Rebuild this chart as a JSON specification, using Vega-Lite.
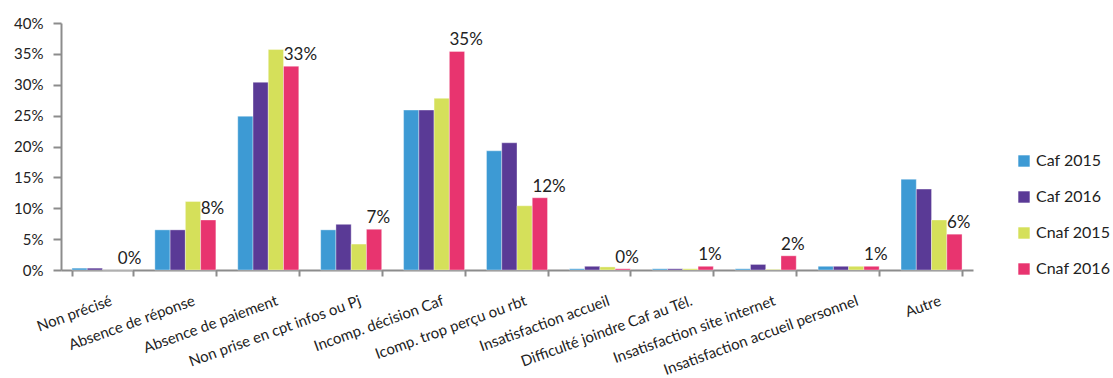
{
  "$schema": "https://vega.github.io/schema/vega-lite/v6.json",
  "width": 912,
  "height": 247,
  "autosize": {"type": "none"},
  "padding": {"left": 61, "top": 23, "right": 140, "bottom": 108},
  "background": "white",
  "config": {
    "font": "Lato",
    "view": {"stroke": null},
    "axis": {
      "domainColor": "#8c8c8c",
      "domainWidth": 2,
      "tickColor": "#8c8c8c",
      "tickWidth": 2,
      "labelColor": "#222222",
      "labelFont": "Lato",
      "labelFontSize": 15,
      "labelLimit": 0,
      "grid": false,
      "title": null
    },
    "legend": {
      "labelFont": "Lato",
      "labelFontSize": 16,
      "labelColor": "#222222",
      "labelLimit": 0
    }
  },
  "data": {
    "values": [
      {"motif": "Non précisé", "serie": "Caf 2015", "part": 0.003},
      {"motif": "Non précisé", "serie": "Caf 2016", "part": 0.003},
      {"motif": "Non précisé", "serie": "Cnaf 2015", "part": 0},
      {"motif": "Non précisé", "serie": "Cnaf 2016", "part": 0},
      {"motif": "Absence de réponse", "serie": "Caf 2015", "part": 0.065},
      {"motif": "Absence de réponse", "serie": "Caf 2016", "part": 0.065},
      {"motif": "Absence de réponse", "serie": "Cnaf 2015", "part": 0.111},
      {"motif": "Absence de réponse", "serie": "Cnaf 2016", "part": 0.081},
      {"motif": "Absence de paiement", "serie": "Caf 2015", "part": 0.249},
      {"motif": "Absence de paiement", "serie": "Caf 2016", "part": 0.304},
      {"motif": "Absence de paiement", "serie": "Cnaf 2015", "part": 0.357},
      {"motif": "Absence de paiement", "serie": "Cnaf 2016", "part": 0.330},
      {"motif": "Non prise en cpt infos ou Pj", "serie": "Caf 2015", "part": 0.065},
      {"motif": "Non prise en cpt infos ou Pj", "serie": "Caf 2016", "part": 0.074},
      {"motif": "Non prise en cpt infos ou Pj", "serie": "Cnaf 2015", "part": 0.042},
      {"motif": "Non prise en cpt infos ou Pj", "serie": "Cnaf 2016", "part": 0.066},
      {"motif": "Incomp. décision Caf", "serie": "Caf 2015", "part": 0.259},
      {"motif": "Incomp. décision Caf", "serie": "Caf 2016", "part": 0.259},
      {"motif": "Incomp. décision Caf", "serie": "Cnaf 2015", "part": 0.278},
      {"motif": "Incomp. décision Caf", "serie": "Cnaf 2016", "part": 0.354},
      {"motif": "Icomp. trop perçu ou rbt", "serie": "Caf 2015", "part": 0.193},
      {"motif": "Icomp. trop perçu ou rbt", "serie": "Caf 2016", "part": 0.206},
      {"motif": "Icomp. trop perçu ou rbt", "serie": "Cnaf 2015", "part": 0.104},
      {"motif": "Icomp. trop perçu ou rbt", "serie": "Cnaf 2016", "part": 0.117},
      {"motif": "Insatisfaction accueil", "serie": "Caf 2015", "part": 0.002},
      {"motif": "Insatisfaction accueil", "serie": "Caf 2016", "part": 0.006},
      {"motif": "Insatisfaction accueil", "serie": "Cnaf 2015", "part": 0.005},
      {"motif": "Insatisfaction accueil", "serie": "Cnaf 2016", "part": 0.002},
      {"motif": "Difficulté joindre Caf au Tél.", "serie": "Caf 2015", "part": 0.002},
      {"motif": "Difficulté joindre Caf au Tél.", "serie": "Caf 2016", "part": 0.002},
      {"motif": "Difficulté joindre Caf au Tél.", "serie": "Cnaf 2015", "part": 0.002},
      {"motif": "Difficulté joindre Caf au Tél.", "serie": "Cnaf 2016", "part": 0.006},
      {"motif": "Insatisfaction site internet", "serie": "Caf 2015", "part": 0.002},
      {"motif": "Insatisfaction site internet", "serie": "Caf 2016", "part": 0.009},
      {"motif": "Insatisfaction site internet", "serie": "Cnaf 2015", "part": 0.001},
      {"motif": "Insatisfaction site internet", "serie": "Cnaf 2016", "part": 0.023},
      {"motif": "Insatisfaction accueil personnel", "serie": "Caf 2015", "part": 0.006},
      {"motif": "Insatisfaction accueil personnel", "serie": "Caf 2016", "part": 0.006},
      {"motif": "Insatisfaction accueil personnel", "serie": "Cnaf 2015", "part": 0.006},
      {"motif": "Insatisfaction accueil personnel", "serie": "Cnaf 2016", "part": 0.006},
      {"motif": "Autre", "serie": "Caf 2015", "part": 0.147},
      {"motif": "Autre", "serie": "Caf 2016", "part": 0.131},
      {"motif": "Autre", "serie": "Cnaf 2015", "part": 0.081},
      {"motif": "Autre", "serie": "Cnaf 2016", "part": 0.058}
    ]
  },
  "encoding": {
    "x": {
      "field": "motif",
      "type": "nominal",
      "sort": null,
      "scale": {"paddingInner": 0.264, "paddingOuter": 0.132},
      "axis": {
        "labelAngle": -20,
        "labelAlign": "right",
        "labelBaseline": "top",
        "labelFontSize": 15,
        "labelOffset": 6,
        "tickBand": "extent",
        "tickSize": 6,
        "labelPadding": 17
      }
    },
    "xOffset": {"field": "serie", "type": "nominal", "sort": ["Caf 2015", "Caf 2016", "Cnaf 2015", "Cnaf 2016"], "scale": {"paddingInner": 0, "paddingOuter": 0}},
    "y": {
      "field": "part",
      "type": "quantitative",
      "scale": {"domain": [0, 0.4], "nice": false},
      "axis": {"format": ".0%", "values": [0, 0.05, 0.1, 0.15, 0.2, 0.25, 0.3, 0.35, 0.4], "tickSize": 8, "labelPadding": 10}
    }
  },
  "layer": [
    {
      "mark": {"type": "bar", "stroke": "white", "strokeWidth": 0.6, "strokeOpacity": 0.6},
      "encoding": {
        "color": {
          "field": "serie",
          "type": "nominal",
          "sort": ["Caf 2015", "Caf 2016", "Cnaf 2015", "Cnaf 2016"],
          "scale": {
            "domain": ["Caf 2015", "Caf 2016", "Cnaf 2015", "Cnaf 2016"],
            "range": ["#3d9ad4", "#5a3a96", "#d5e05a", "#e8346f"]
          },
          "legend": {
            "title": null,
            "orient": "none",
            "legendX": 955,
            "legendY": 130,
            "symbolType": "square",
            "symbolSize": 130,
            "symbolStrokeWidth": 0,
            "symbolOpacity": 1,
            "labelOffset": 4,
            "rowPadding": 20
          }
        }
      }
    },
    {
      "transform": [{"filter": "datum.serie === 'Cnaf 2016'"}],
      "mark": {"type": "text", "align": "left", "baseline": "bottom", "dx": -7.5, "dy": -2, "fontSize": 17, "color": "#222222"},
      "encoding": {
        "text": {"field": "part", "type": "quantitative", "format": ".0%"}
      }
    }
  ]
}
